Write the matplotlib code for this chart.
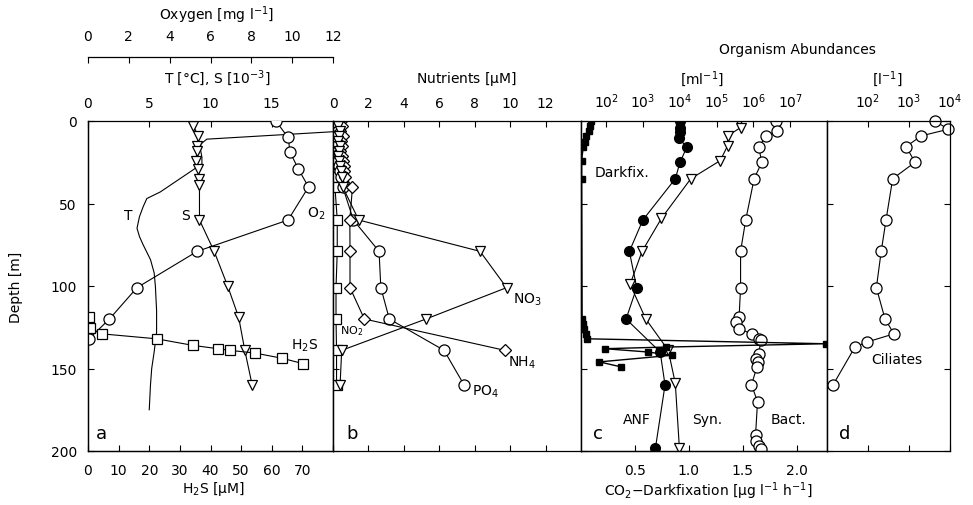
import matplotlib
matplotlib.use("Agg")
import matplotlib.pyplot as plt
import matplotlib.ticker as mticker
import numpy as np

plt.rcParams['font.family'] = ['DejaVu Sans']
plt.rcParams['font.size'] = 10
plt.rcParams['mathtext.default'] = 'regular'

# ---- panel a: temperature, salinity, oxygen, H2S ----
t_depth = [6.5, 11, 14, 18, 22, 26, 32, 38, 43, 47, 52, 58, 65, 70, 75, 84, 92, 100, 115, 128, 140, 150, 160, 175]
t_val = [20.0, 9.7, 9.2, 9.2, 9.3, 9.3, 8.1, 6.9, 5.9, 4.8, 4.5, 4.2, 4.0, 4.2, 4.5, 5.1, 5.4, 5.5, 5.6, 5.6, 5.4, 5.2, 5.1, 5.0]

s_depth = [0, 3, 9, 15, 18, 24, 29, 35, 39, 60, 79, 100, 119, 139, 160]
s_val = [8.6, 8.6, 9.0, 8.9, 8.9, 8.8, 9.0, 9.1, 9.1, 9.1, 10.3, 11.4, 12.3, 12.8, 13.4]

o2_depth = [0, 10, 19, 29, 40, 60, 79, 101, 120, 132]
o2_val = [9.2, 9.8, 9.9, 10.3, 10.8, 9.8, 5.35, 2.4, 1.05, 0.05]

h2s_depth = [119, 125.5, 129, 132, 136, 138, 139, 140.6, 143.8, 147]
h2s_val = [0.4, 0.6, 4.5, 22.4, 34.3, 42.4, 46.3, 54.4, 63.4, 70.1]

# ---- panel b: nutrients ----
nut_depth = [0, 3, 6, 9, 12, 15, 18, 21, 24, 27, 30, 34, 40, 60, 79, 101, 120, 139, 160]
no2_val = [0.10, 0.12, 0.09, 0.11, 0.10, 0.12, 0.10, 0.09, 0.11, 0.12, 0.10, 0.12, 0.11, 0.24, 0.24, 0.17, 0.17, 0.20, 0.20]
no3_val = [0.35, 0.30, 0.40, 0.35, 0.30, 0.40, 0.35, 0.30, 0.35, 0.40, 0.45, 0.50, 0.55, 1.45, 8.3, 9.8, 5.25, 0.49, 0.40]
nh4_depth = [0, 3, 6, 9, 12, 15, 18, 21, 24, 27, 30, 34, 40, 60, 79, 101, 120, 139]
nh4_val = [0.45, 0.50, 0.40, 0.55, 0.45, 0.50, 0.40, 0.50, 0.55, 0.60, 0.60, 0.70, 1.10, 0.95, 0.96, 0.96, 1.77, 9.7]
po4_val = [0.20, 0.25, 0.30, 0.20, 0.30, 0.25, 0.30, 0.35, 0.30, 0.35, 0.40, 0.45, 0.55, 1.15, 2.6, 2.7, 3.18, 6.27, 7.4]

# ---- panel c: abundances (ml-1) and dark CO2 fixation ----
anf_depth = [0, 4, 6.5, 10, 16, 25, 35, 60, 79, 101, 120, 140, 160, 198]
anf_val = [1.0e4, 1.0e4, 1.0e4, 9.3e3, 1.55e4, 1.02e4, 7.6e3, 1.0e3, 4.3e2, 6.8e2, 3.5e2, 2.95e3, 4.0e3, 2.2e3]

syn_depth = [0, 4, 9, 15, 24, 35, 59, 79, 99, 120, 139, 159, 198]
syn_val = [4.1e5, 4.5e5, 2.0e5, 2.0e5, 1.26e5, 2.0e4, 3.2e3, 9.5e2, 4.5e2, 1.2e3, 4.9e3, 7.6e3, 9.8e3]

bac_depth = [0, 6, 9, 16, 25, 35, 60, 79, 101, 119, 122, 126, 129, 132, 133, 141, 144, 146, 149, 160, 170, 190, 194, 197, 199]
bac_val = [4.1e6, 4.5e6, 2.2e6, 1.4e6, 1.7e6, 1.05e6, 6.2e5, 4.5e5, 4.5e5, 4.1e5, 3.3e5, 4.1e5, 9.3e5, 1.4e6, 1.6e6, 1.4e6, 1.15e6, 1.35e6, 1.25e6, 8.9e5, 1.3e6, 1.15e6, 1.15e6, 1.4e6, 1.6e6]

dfix_depth = [0, 3, 6, 9, 13, 16, 24, 35, 120, 123, 126, 129, 132, 135, 137, 138, 140, 142, 146, 149]
dfix_val = [0.09, 0.08, 0.07, 0.05, 0.035, 0.02, 0.006, 0.006, 0.01, 0.02, 0.03, 0.045, 0.06, 2.27, 0.79, 0.22, 0.62, 0.84, 0.17, 0.37]

# ---- panel d: ciliates (l-1) ----
cil_depth = [0, 5, 9, 15.5, 25, 35, 60, 79, 101, 120, 129, 134, 137, 160]
cil_val = [4.3e3, 9.1e3, 2.0e3, 8.5e2, 1.4e3, 4.0e2, 2.75e2, 2.1e2, 1.6e2, 2.6e2, 4.3e2, 9.3e1, 4.8e1, 1.4e1]

W, H = 973, 506


def box(x0, x1, top=122, bot=452):
    return [x0 / W, (H - bot) / H, (x1 - x0) / W, (bot - top) / H]


def ftext(x, y, s, **kw):
    fig.text(x / W, 1 - y / H, s, ha=kw.pop('ha', 'center'), va=kw.pop('va', 'center'), **kw)


lw = 0.8
opn = dict(color='black', lw=lw, mfc='white', mec='black', mew=0.9)
fil = dict(color='black', lw=lw, mfc='black', mec='black')
tk = dict(direction='in', length=4, width=0.8)

fig = plt.figure(figsize=(9.73, 5.06), dpi=100)
ax_a = fig.add_axes(box(88, 333))
ax_b = fig.add_axes(box(333, 581), sharey=ax_a)
ax_c = fig.add_axes(box(581, 827), sharey=ax_a)
ax_d = fig.add_axes(box(827, 950), sharey=ax_a)

# twin axes first (twiny moves the parent ticks to the bottom)
ax_o = ax_a.twiny()
ax_h = ax_a.twiny()
ax_c2 = ax_c.twiny()

ax_a.set_ylim(200, 0)
ax_a.set_yticks([0, 50, 100, 150, 200])
ax_a.tick_params(axis='y', pad=8, **tk)
for ax in (ax_b, ax_c, ax_d):
    ax.tick_params(axis='y', labelleft=False, **tk)
ax_d.tick_params(axis='y', right=True)

# panel a
ax_a.set_xlim(0, 20)
ax_a.set_xticks([0, 5, 10, 15])
ax_a.tick_params(axis='x', top=True, bottom=False, labeltop=True, labelbottom=False, pad=8, **tk)
ax_a.plot(t_val, t_depth, color='black', lw=lw)
ax_a.plot(s_val, s_depth, marker='v', ms=7, **opn)

ax_o.set_xlim(0, 12)
ax_o.set_xticks(range(0, 13, 2))
ax_o.spines['top'].set_position(('outward', 46))
for sp in ('left', 'right', 'bottom'):
    ax_o.spines[sp].set_visible(False)
ax_o.tick_params(axis='x', top=True, bottom=False, labeltop=True, labelbottom=False, pad=10, **tk)
ax_o.plot(o2_val, o2_depth, marker='o', ms=8, **opn)

ax_h.set_xlim(0, 80)
ax_h.set_xticks(range(0, 90, 10))
ax_h.set_xticklabels([str(v) for v in range(0, 80, 10)] + [''])
ax_h.spines['top'].set_visible(False)
ax_h.tick_params(axis='x', top=False, bottom=True, labeltop=False, labelbottom=True, pad=9, **tk)
ax_h.plot(h2s_val, h2s_depth, marker='s', ms=6.5, **opn)

# panel b
ax_b.set_xlim(0, 14)
ax_b.set_xticks(range(0, 14, 2))
ax_b.tick_params(axis='x', top=True, bottom=True, labeltop=True, labelbottom=False, pad=8, **tk)
ax_b.plot(no2_val, nut_depth, marker='s', ms=6.5, **opn)
ax_b.plot(po4_val, nut_depth, marker='o', ms=8, **opn)
ax_b.plot(nh4_val, nh4_depth, marker='D', ms=6, **opn)
ax_b.plot(no3_val, nut_depth, marker='v', ms=7, **opn)

# panel c
ax_c.set_xscale('log')
ax_c.set_xlim(10 ** 1.32, 1e8)
ax_c.xaxis.set_major_locator(mticker.FixedLocator([1e2, 1e3, 1e4, 1e5, 1e6, 1e7]))
ax_c.xaxis.set_major_formatter(mticker.LogFormatterMathtext())
ax_c.xaxis.set_minor_locator(mticker.NullLocator())
ax_c.tick_params(axis='x', top=True, bottom=False, labeltop=True, labelbottom=False, pad=8, **tk)
ax_c.plot(bac_val, bac_depth, marker='o', ms=8, **opn)
ax_c.plot(syn_val, syn_depth, marker='v', ms=7, **opn)
ax_c.plot(anf_val, anf_depth, marker='o', ms=7, **fil)

ax_c2.set_xlim(0, 2.28)
ax_c2.set_xticks([0.5, 1.0, 1.5, 2.0])
ax_c2.set_xticklabels(['0.5', '1.0', '1.5', '2.0'])
ax_c2.spines['top'].set_visible(False)
ax_c2.tick_params(axis='x', top=False, bottom=True, labeltop=False, labelbottom=True, pad=9, **tk)
ax_c2.plot(dfix_val, dfix_depth, marker='s', ms=5, lw=1.0, color='black')

# panel d
ax_d.set_xscale('log')
ax_d.set_xlim(10, 1e4)
ax_d.xaxis.set_major_locator(mticker.FixedLocator([1e2, 1e3, 1e4]))
ax_d.xaxis.set_major_formatter(mticker.LogFormatterMathtext())
ax_d.xaxis.set_minor_locator(mticker.NullLocator())
ax_d.tick_params(axis='x', top=True, bottom=True, labeltop=True, labelbottom=False, pad=8, **tk)
ax_d.plot(cil_val, cil_depth, marker='o', ms=8, clip_on=False, **opn)

for ax in (ax_a, ax_b, ax_c, ax_d, ax_o, ax_h, ax_c2):
    for sp in ax.spines.values():
        sp.set_linewidth(0.9)

# axis titles
ftext(217, 15, 'Oxygen [mg l$^{-1}$]')
ftext(217, 78, 'T [°C], S [10$^{-3}$]')
ftext(467, 79, 'Nutrients [$\\mu$M]')
ftext(797, 50, 'Organism Abundances')
ftext(702, 79, '[ml$^{-1}$]')
ftext(887, 79, '[l$^{-1}$]')
ftext(213, 489, 'H$_2$S [$\\mu$M]')
ftext(708, 491, 'CO$_2$$-$Darkfixation [$\\mu$g l$^{-1}$ h$^{-1}$]')
ftext(16, 287, 'Depth [m]', rotation=90)

# curve labels
ftext(128, 216, 'T')
ftext(185, 216, 'S')
ftext(316, 214, 'O$_2$')
ftext(305, 346, 'H$_2$S')
ftext(527, 300, 'NO$_3$')
ftext(352, 331, 'NO$_2$', fontsize=8)
ftext(522, 363, 'NH$_4$')
ftext(485, 392, 'PO$_4$')
ftext(622, 173, 'Darkfix.')
ftext(637, 420, 'ANF')
ftext(707, 420, 'Syn.')
ftext(789, 420, 'Bact.')
ftext(897, 360, 'Ciliates')
ftext(101, 434, 'a', fontsize=13)
ftext(352, 434, 'b', fontsize=13)
ftext(598, 434, 'c', fontsize=13)
ftext(845, 434, 'd', fontsize=13)

fig.savefig('out.png', dpi=100)
